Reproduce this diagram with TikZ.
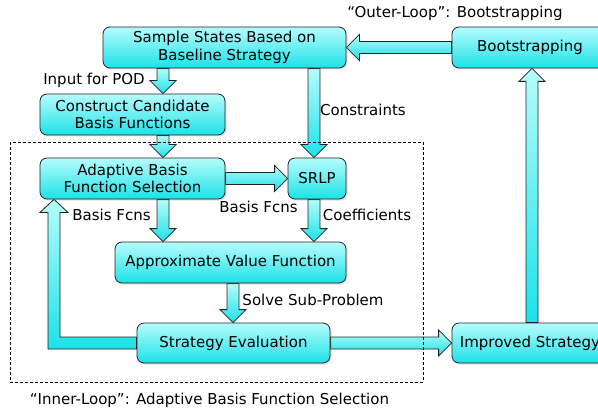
\documentclass[tikz,border=0pt]{standalone}
\usepackage{fontspec}
\setmainfont{DejaVu Sans}
\usetikzlibrary{calc,shadows,backgrounds}
\definecolor{boxtop}{RGB}{182,252,252}
\definecolor{boxbot}{RGB}{28,226,232}
\definecolor{edge}{RGB}{35,35,35}
\begin{document}
\begin{tikzpicture}[x=1pt,y=-1pt,
  font=\fontsize{15}{17.5}\selectfont,
  box/.style={rectangle, rounded corners=7pt, draw=edge, line width=0.8pt,
    top color=boxtop, bottom color=boxbot, align=center, inner sep=0pt,
    drop shadow={opacity=0.25, shadow xshift=1.5pt, shadow yshift=-1.5pt}},
  fat/.style={draw=edge, line width=0.8pt, top color=boxtop, bottom color=boxbot,
    to path={let \p1=(\tikztostart), \p2=(\tikztotarget),
      \n1={atan2(\y2-\y1,\x2-\x1)}, \n2={veclen(\x2-\x1,\y2-\y1)-13} in
      ($(\p1)+(\n1+90:6pt)$) -- ($(\p1)+(\n1:\n2)+(\n1+90:6pt)$)
      -- ($(\p1)+(\n1:\n2)+(\n1+90:13pt)$) -- (\p2)
      -- ($(\p1)+(\n1:\n2)+(\n1-90:13pt)$) -- ($(\p1)+(\n1:\n2)+(\n1-90:6pt)$)
      -- ($(\p1)+(\n1-90:6pt)$) -- cycle}},
  lbl/.style={inner sep=0pt}]
\useasboundingbox (0,0) rectangle (598,412);

% boxes
\node [box, minimum width=243pt, minimum height=41pt] (sample) at (224.5,47.5) {Sample States Based on\\Baseline Strategy};
\node [box, minimum width=156pt, minimum height=41pt] (boot) at (530,47.5) {Bootstrapping};
\node [box, minimum width=185pt, minimum height=41pt] (cand) at (132.5,114.5) {Construct Candidate\\Basis Functions};
\node [box, minimum width=185pt, minimum height=41pt] (abfs) at (132.5,178.5) {Adaptive Basis\\Function Selection};
\node [box, minimum width=58pt, minimum height=41pt] (srlp) at (317,178.5) {SRLP};
\node [box, minimum width=231pt, minimum height=41pt] (avf) at (230.5,262.5) {Approximate Value Function};
\node [box, minimum width=193pt, minimum height=40pt] (eval) at (233.5,343) {Strategy Evaluation};
\node [box, minimum width=156pt, minimum height=40pt] (imp) at (530,343) {Improved Strategy};

% columns of the block arrows
\coordinate (colA) at (163,0);
\coordinate (colB) at (314,0);
\coordinate (colC) at (233,0);
\coordinate (colD) at (532,0);
\coordinate (tip) at (abfs.south -| 54,0);
\coordinate (corner) at (eval.west -| tip);

% block arrows
\begin{scope}[on background layer]
\draw [fat] (sample.south -| colA) to (cand.north -| colA);
\draw [fat] (cand.south -| colA) to (abfs.north -| colA);
\draw [fat] (abfs.south -| colA) to (avf.north -| colA);
\draw [fat] (sample.south -| colB) to (srlp.north -| colB);
\draw [fat] (srlp.south -| colB) to (avf.north -| colB);
\draw [fat] (avf.south -| colC) to (eval.north -| colC);
\draw [fat] (abfs.east) to (srlp.west);
\draw [fat] (boot.west) to (sample.east);
\draw [fat] (eval.east) to (imp.west);
\draw [fat] (imp.north -| colD) to (boot.south -| colD);
\draw [draw=edge, line width=0.8pt, top color=boxtop, bottom color=boxbot]
  ([yshift=-6pt]eval.west) -- ([xshift=-6pt,yshift=-6pt]corner)
  -- ([xshift=-6pt,yshift=-13pt]tip) -- ([xshift=-14pt,yshift=-13pt]tip) -- (tip)
  -- ([xshift=14pt,yshift=-13pt]tip) -- ([xshift=6pt,yshift=-13pt]tip)
  -- ([xshift=6pt,yshift=6pt]corner) -- ([yshift=6pt]eval.west) -- cycle;
\end{scope}

% inner loop frame
\draw [dashed, dash pattern=on 3pt off 2pt, line width=0.8pt] (10,142) rectangle (423,382);

% labels
\node [lbl] (pod) at (94,80) {Input for POD};
\node [lbl] (cons) at (363,110) {Constraints};
\node [lbl] (fcnsA) at (111.5,215) {Basis Fcns};
\node [lbl] (fcnsB) at (258.5,207) {Basis Fcns};
\node [lbl] (coef) at (367,215) {Coefficients};
\node [lbl] (solve) at (313,300) {Solve Sub-Problem};
\node [lbl] (outer) at (455,13) {“Outer-Loop”: Bootstrapping};
\node [lbl] (inner) at (209.5,400) {“Inner-Loop”: Adaptive Basis Function Selection};
\end{tikzpicture}
\end{document}
